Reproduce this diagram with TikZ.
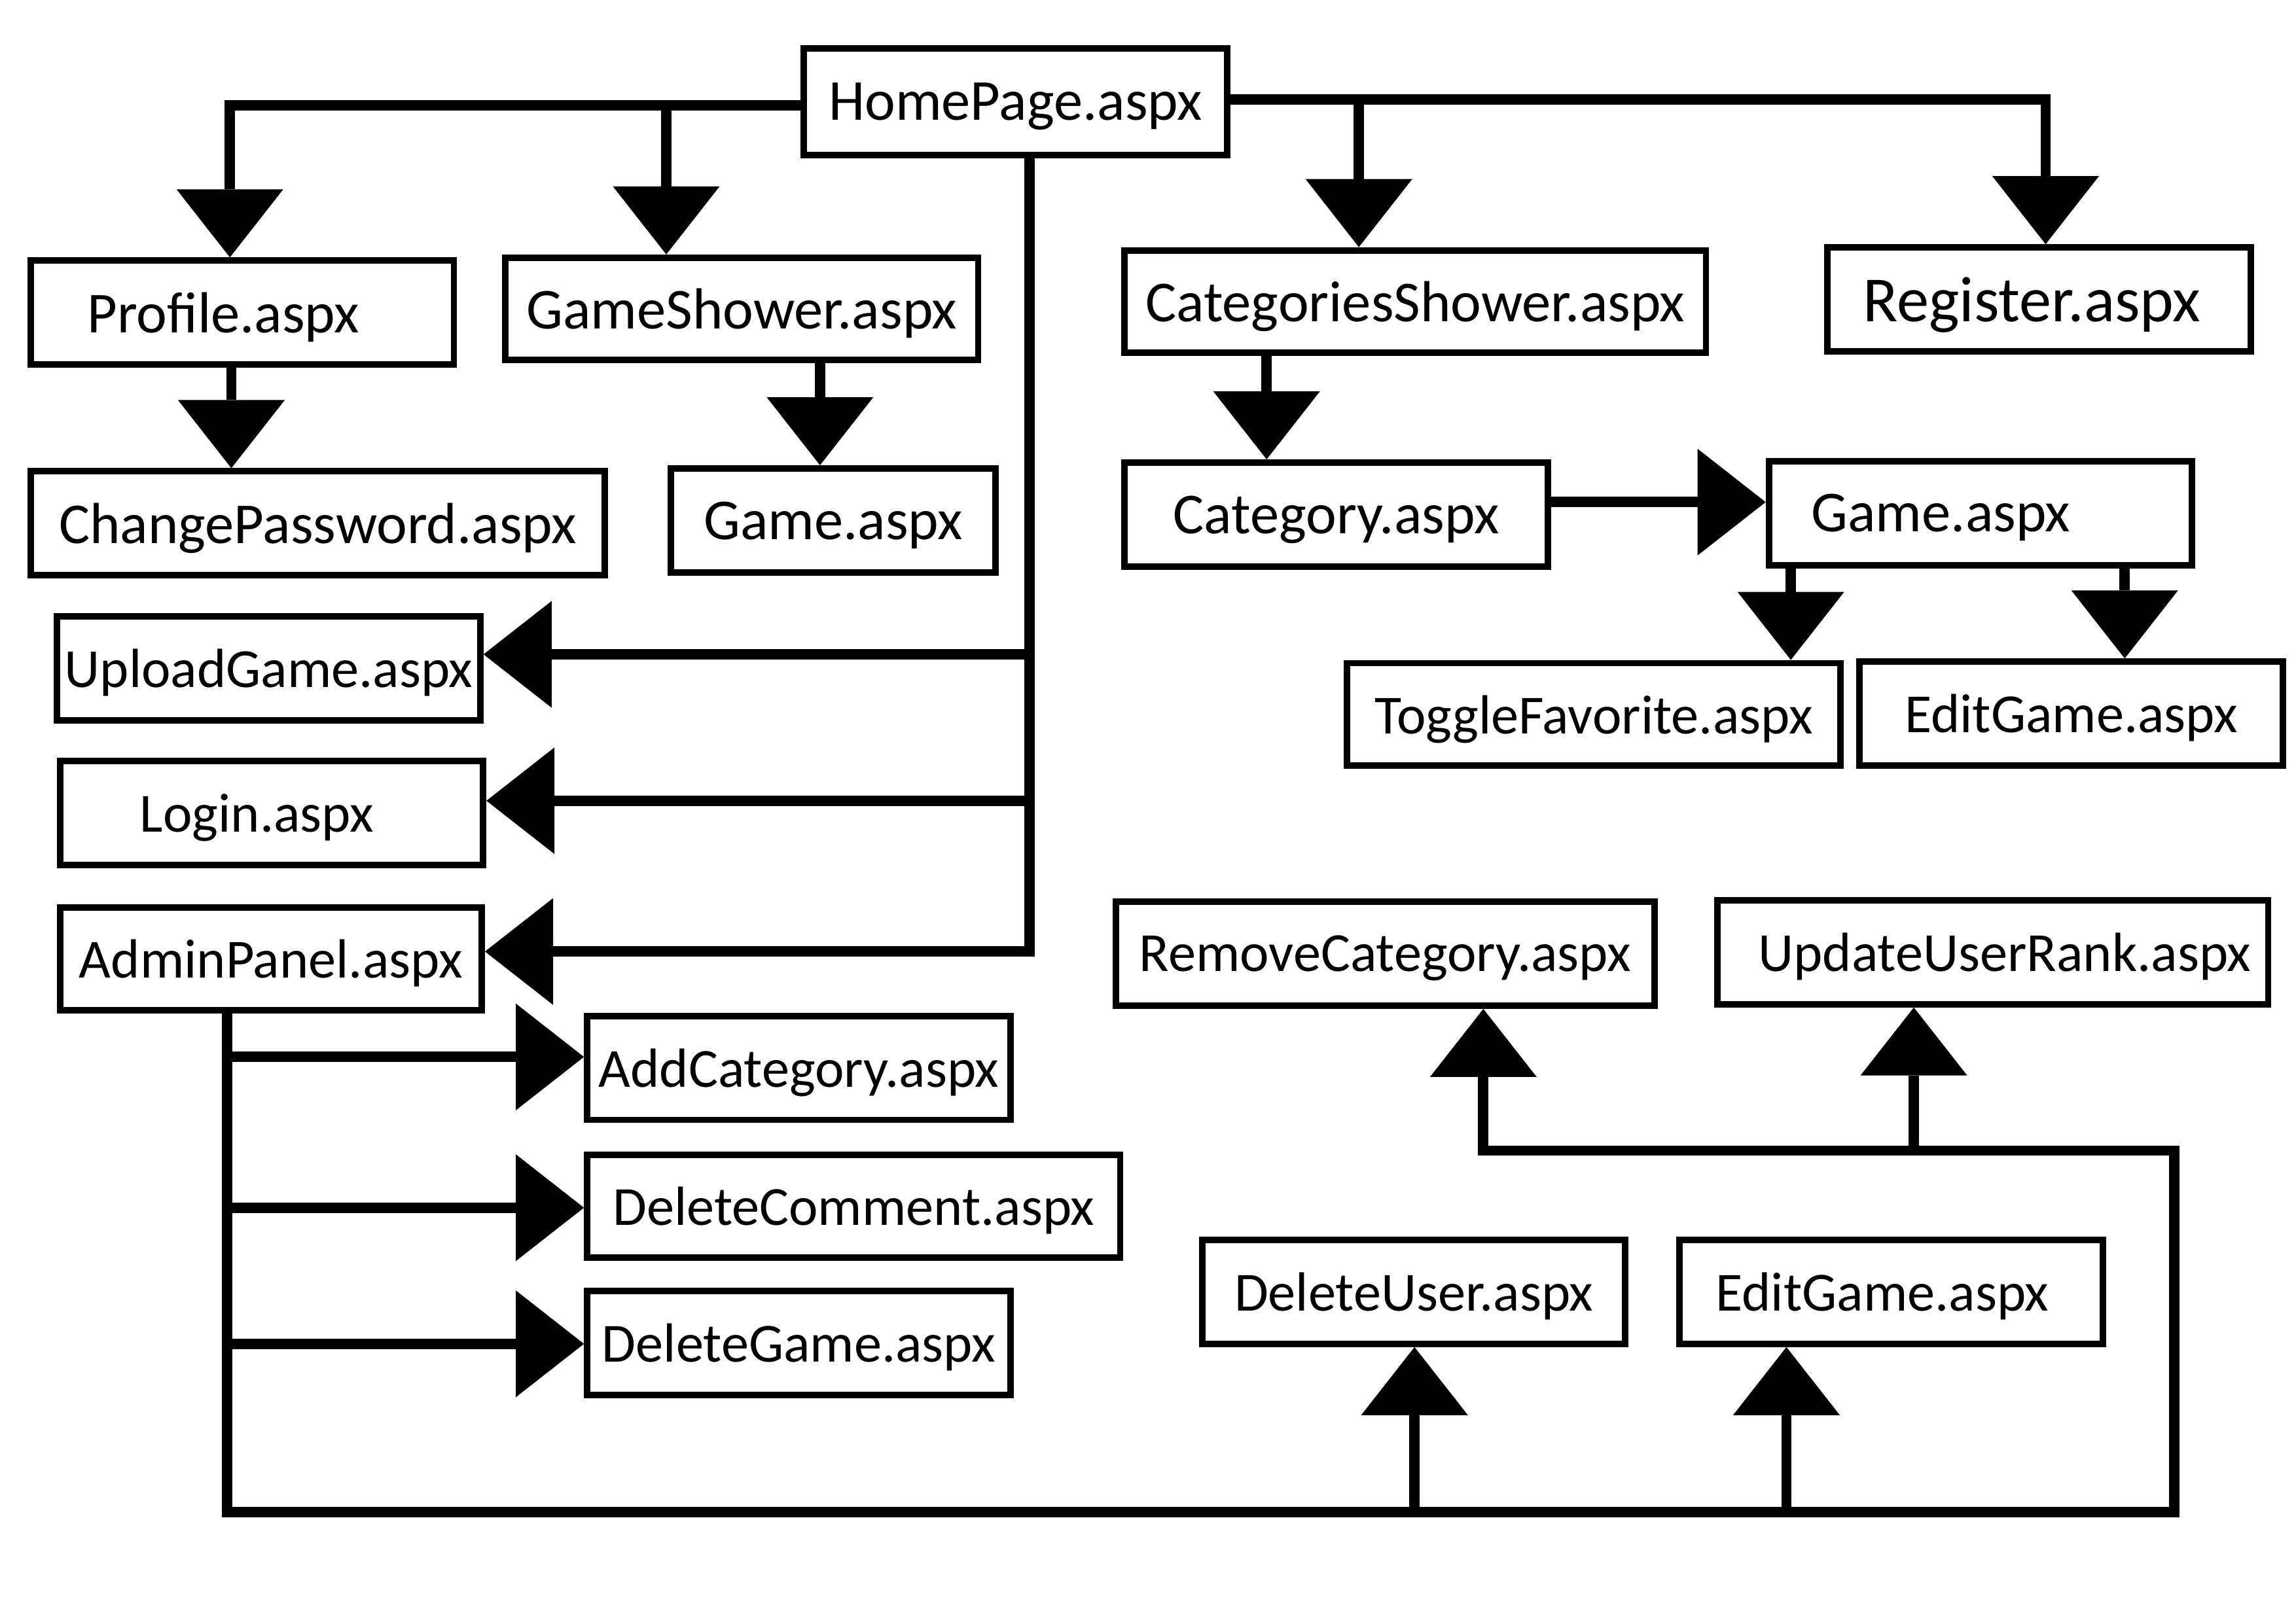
\documentclass[tikz,border=0pt]{standalone}
\usepackage{fontspec}
\setmainfont{Carlito}
\usetikzlibrary{arrows.meta}
\begin{document}
\begin{tikzpicture}[x=0.022372cm,y=-0.022372cm,
  pagebox/.style={draw=black, line width=2.8pt, rectangle, inner sep=0pt,
    text depth=0pt, font=\fontsize{24}{28}\selectfont},
  bigtext/.style={font=\fontsize{25.2}{30}\selectfont},
  hugetext/.style={font=\fontsize{28}{33}\selectfont},
  conn/.style={line width=4.5pt, line join=miter},
  arr/.style={conn, -{Triangle[width=1.63cm,length=1.04cm,line width=0pt]}}]
\useasboundingbox[fill=white] (0,0) rectangle (1568,1109);

% boxes
\node[pagebox, bigtext, minimum width=289*0.022372cm, minimum height=73*0.022372cm] (home) at (693.5,69.5) {HomePage.aspx};
\node[pagebox, bigtext, minimum width=289*0.022372cm, minimum height=71*0.022372cm] (profile) at (165.5,213.5) {Profile.aspx\hspace*{0.58cm}};
\node[pagebox, bigtext, minimum width=323*0.022372cm, minimum height=70*0.022372cm] (gs) at (506.5,211) {GameShower.aspx};
\node[pagebox, bigtext, minimum width=392*0.022372cm, minimum height=71*0.022372cm] (cp) at (217,357.5) {ChangePassword.aspx};
\node[pagebox, bigtext, minimum width=222*0.022372cm, minimum height=71*0.022372cm] (gameA) at (569,355.5) {Game.aspx};
\node[pagebox, minimum width=289*0.022372cm, minimum height=71*0.022372cm] (upload) at (183.5,456.5) {UploadGame.aspx};
\node[pagebox, minimum width=289*0.022372cm, minimum height=71*0.022372cm] (login) at (185.5,555.5) {Login.aspx\hspace*{0.45cm}};
\node[pagebox, minimum width=288*0.022372cm, minimum height=70*0.022372cm] (admin) at (185,655) {AdminPanel.aspx};
\node[pagebox, minimum width=289*0.022372cm, minimum height=71*0.022372cm] (addcat) at (545.5,729.5) {AddCategory.aspx};
\node[pagebox, minimum width=364*0.022372cm, minimum height=70*0.022372cm] (delcom) at (583,824) {DeleteComment.aspx};
\node[pagebox, minimum width=289*0.022372cm, minimum height=71*0.022372cm] (delgame) at (545.5,917.5) {DeleteGame.aspx};
\node[pagebox, bigtext, minimum width=397*0.022372cm, minimum height=70*0.022372cm] (cs) at (966.5,206) {CategoriesShower.aspx};
\node[pagebox, hugetext, minimum width=289*0.022372cm, minimum height=71*0.022372cm] (reg) at (1392.5,204.5) {Register.aspx\hspace*{0.22cm}};
\node[pagebox, bigtext, minimum width=289*0.022372cm, minimum height=71*0.022372cm] (cat) at (912.5,351.5) {Category.aspx};
\node[pagebox, bigtext, minimum width=289*0.022372cm, minimum height=71*0.022372cm] (gameB) at (1352.5,350.5) {Game.aspx\hspace*{1.21cm}};
\node[pagebox, minimum width=337*0.022372cm, minimum height=70*0.022372cm] (tf) at (1088.5,488) {ToggleFavorite.aspx};
\node[pagebox, minimum width=289*0.022372cm, minimum height=71*0.022372cm] (egA) at (1414.5,487.5) {EditGame.aspx};
\node[pagebox, minimum width=368*0.022372cm, minimum height=71*0.022372cm] (rc) at (946,651.5) {RemoveCategory.aspx};
\node[pagebox, minimum width=376*0.022372cm, minimum height=71*0.022372cm] (uur) at (1361,650.5) {\hspace*{0.36cm}UpdateUserRank.aspx};
\node[pagebox, minimum width=289*0.022372cm, minimum height=71*0.022372cm] (du) at (965.5,882.5) {DeleteUser.aspx};
\node[pagebox, minimum width=289*0.022372cm, minimum height=71*0.022372cm] (egB) at (1291.5,882.5) {EditGame.aspx\hspace*{0.27cm}};

% junction coordinates
\coordinate (jP) at (157,72);
\coordinate (jG) at (455,72);
\coordinate (jR) at (1397,68);
\coordinate (jC) at (928,68);
\coordinate (tr) at (703,650);
\coordinate (bl) at (155,1033);
\coordinate (br) at (1485,1033);
\coordinate (ur) at (1485,786);
\coordinate (ul) at (1013,786);

% from HomePage, left side
\draw[arr] (home.west |- jP) -- (jP) -- (profile.north -| jP);
\draw[arr] (jG) -- (gs.north -| jG);
% from HomePage, right side
\draw[arr] (home.east |- jR) -- (jR) -- (reg.north -| jR);
\draw[arr] (jC) -- (cs.north -| jC);
% from HomePage, down
\draw[arr] (home.south -| tr) -- (tr) -- (admin.east |- tr);
\draw[arr] (tr |- 0,447) -- (upload.east |- 0,447);
\draw[arr] (tr |- 0,547) -- (login.east |- 0,547);
% second level
\draw[arr] (profile.south -| 158,0) -- (cp.north -| 158,0);
\draw[arr] (gs.south -| 560,0) -- (gameA.north -| 560,0);
\draw[arr] (cs.south -| 865,0) -- (cat.north -| 865,0);
\draw[arr] (cat.east |- 0,343) -- (gameB.west |- 0,343);
\draw[arr] (gameB.south -| 1223,0) -- (tf.north -| 1223,0);
\draw[arr] (gameB.south -| 1451,0) -- (egA.north -| 1451,0);
% AdminPanel
\draw[arr] (admin.south -| bl) -- (bl) -- (br) -- (ur) -- (ul) -- (rc.south -| ul);
\draw[arr] (1307,786) -- (uur.south -| 1307,0);
\draw[arr] (966,1033) -- (du.south -| 966,0);
\draw[arr] (1220,1033) -- (egB.south -| 1220,0);
\draw[arr] (bl |- 0,722) -- (addcat.west |- 0,722);
\draw[arr] (bl |- 0,825) -- (delcom.west |- 0,825);
\draw[arr] (bl |- 0,918) -- (delgame.west |- 0,918);
\end{tikzpicture}
\end{document}
